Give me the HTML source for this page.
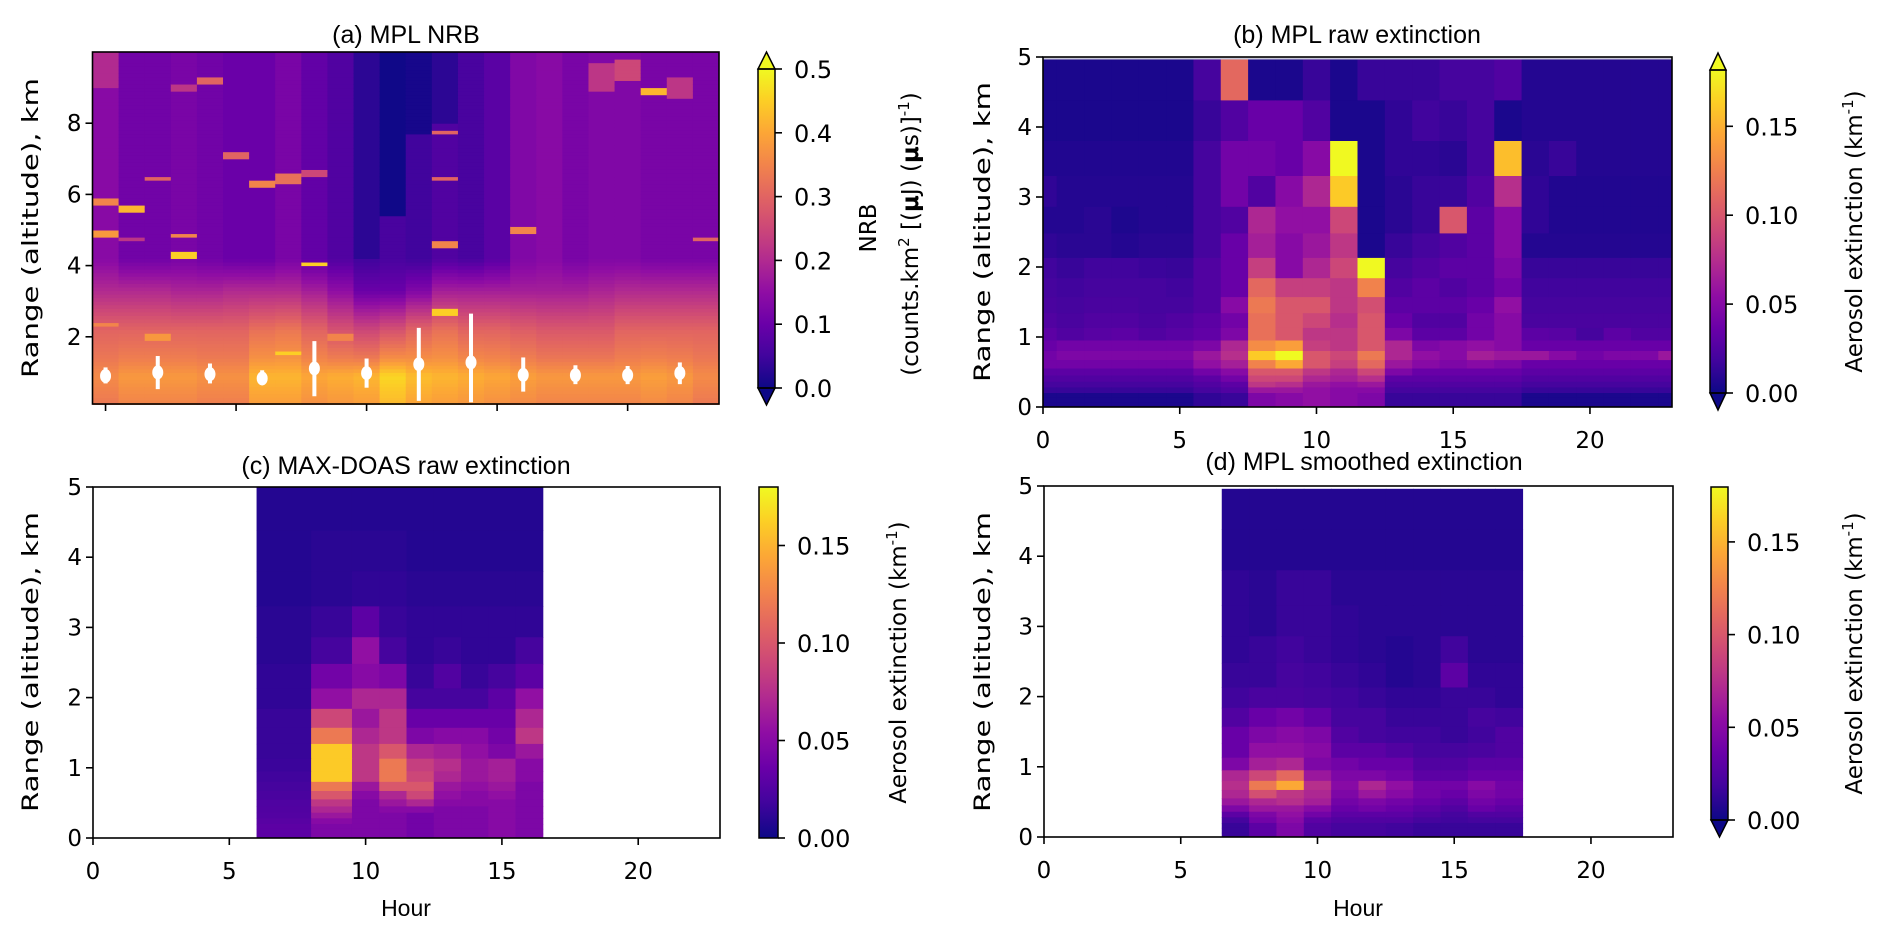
<!DOCTYPE html>
<html><head><meta charset="utf-8"><style>
html,body{margin:0;padding:0;background:#fff;}
svg text{font-family:"DejaVu Sans","Liberation Sans",sans-serif;fill:#000;}
.tt{font-family:"Liberation Sans",sans-serif;}
</style></head><body>
<svg id="fig" xmlns="http://www.w3.org/2000/svg" width="1892" height="935" viewBox="0 0 1892 935">
<defs id="defs"></defs>
</svg>
<script>
// ---------- data ----------
const hoursA = [0,1,2,3,4,5,6,7,8,9,10,11,12,13,14,15,16,17,18,19,20,21,22,23];
const upperA = [0.14,0.11,0.11,0.12,0.11,0.1,0.1,0.12,0.09,0.07,0.05,0.06,0.05,0.07,0.06,0.08,0.13,0.14,0.12,0.13,0.13,0.12,0.12,0.12];
const darkFloorA = [11,11,11,11,11,11,11,11,11,11,4.2,5.4,7.7,8.0,11,11,11,11,11,11,11,11,11,11];
const darkValA = [0,0,0,0,0,0,0,0,0,0,0.03,0.003,0.01,0.03,0,0,0,0,0,0,0,0,0,0];
const midA = [0.2,0.2,0.2,0.19,0.19,0.2,0.2,0.2,0.18,0.15,0.1,0.1,0.13,0.18,0.18,0.18,0.18,0.18,0.18,0.19,0.2,0.2,0.2,0.2];
const nearA = [0.3,0.3,0.3,0.3,0.3,0.3,0.32,0.33,0.3,0.27,0.25,0.27,0.3,0.32,0.3,0.3,0.29,0.28,0.28,0.28,0.3,0.3,0.3,0.3];
const surfA = [0.36,0.38,0.38,0.38,0.37,0.37,0.42,0.42,0.4,0.41,0.42,0.46,0.43,0.42,0.41,0.4,0.39,0.38,0.38,0.38,0.38,0.39,0.38,0.36];
const streakHour = [0,0,0,1,1,2,3,3,3,4,5,6,7,8,8,13,13,13,13,16,16,19,20,21,22,23,0,2,7,9];
const streakKm   = [5.8,4.9,9.5,5.6,4.7,6.4,4.3,4.85,9.0,9.2,7.1,6.3,6.45,4.05,6.6,7.75,6.4,4.6,2.7,5.0,8.7,9.3,9.5,8.9,9.0,4.7,2.4,2.0,1.6,2.0];
const streakThick= [0.1,0.2,1.0,0.15,0.1,0.06,0.05,0.1,0.2,0.2,0.15,0.2,0.3,0.05,0.1,0.06,0.06,0.06,0.05,0.15,0.1,0.8,0.6,0.3,0.5,0.1,0.1,0.1,0.08,0.05];
const streakVal  = [0.35,0.38,0.2,0.42,0.22,0.3,0.45,0.35,0.22,0.3,0.3,0.35,0.32,0.45,0.25,0.3,0.3,0.35,0.45,0.35,0.25,0.22,0.25,0.42,0.22,0.3,0.35,0.38,0.45,0.35];
const ebHours = [0,2,4,6,8,10,12,14,16,18,20,22];
const ebMean = [0.9,1.0,0.95,0.83,1.11,0.98,1.23,1.28,0.93,0.92,0.92,0.98];
const ebLow  = [0.69,0.53,0.69,0.65,0.33,0.57,0.20,0.16,0.46,0.67,0.67,0.67];
const ebHigh = [1.14,1.46,1.25,1.06,1.88,1.39,2.25,2.65,1.42,1.2,1.18,1.28];

const rangeEdges = [5,4.38,3.8,3.3,2.86,2.48,2.13,1.84,1.57,1.34,1.13,0.95,0.8,0.67,0.55,0.45,0.36,0.28,0.2,0.13,0.06,0];
const rangeEdgesD = [4.96,4.38,3.8,3.3,2.86,2.48,2.13,1.84,1.57,1.34,1.13,0.95,0.8,0.67,0.55,0.45,0.36,0.28,0.2,0.13,0.06,0];

const hoursB = [0,1,2,3,4,5,6,7,8,9,10,11,12,13,14,15,16,17,18,19,20,21,22,23];
const extB = [
[.005,.005,.005,.005,.005,.005,.02,.11,.005,.005,.015,.005,.015,.015,.015,.02,.02,.025,.008,.008,.008,.008,.008,.008],
[.005,.005,.005,.005,.005,.005,.015,.025,.035,.035,.025,.005,.005,.012,.018,.015,.02,.005,.008,.008,.008,.008,.008,.008],
[.007,.007,.007,.007,.007,.007,.02,.04,.04,.035,.05,.18,.005,.012,.012,.01,.02,.155,.01,.015,.008,.008,.008,.008],
[.012,.008,.008,.008,.008,.008,.02,.04,.025,.05,.07,.16,.005,.01,.015,.015,.025,.075,.012,.007,.007,.007,.007,.007],
[.008,.008,.01,.006,.008,.008,.02,.025,.07,.055,.055,.09,.005,.01,.015,.1,.03,.05,.012,.007,.007,.007,.007,.007],
[.012,.01,.01,.008,.01,.01,.02,.035,.065,.05,.06,.08,.005,.015,.02,.025,.03,.05,.008,.008,.008,.008,.008,.008],
[.018,.015,.018,.018,.016,.015,.025,.035,.085,.05,.07,.09,.18,.02,.025,.03,.03,.045,.015,.015,.015,.015,.015,.015],
[.02,.018,.02,.02,.02,.018,.025,.035,.11,.085,.085,.08,.125,.025,.03,.025,.03,.04,.018,.018,.018,.018,.018,.018],
[.022,.02,.022,.022,.02,.02,.025,.05,.12,.1,.1,.08,.095,.03,.03,.03,.035,.055,.02,.02,.02,.02,.02,.02],
[.025,.022,.025,.025,.022,.025,.03,.04,.115,.1,.09,.075,.1,.035,.025,.025,.04,.05,.022,.022,.022,.022,.022,.022],
[.03,.025,.028,.03,.025,.028,.032,.045,.115,.1,.08,.08,.1,.045,.03,.03,.04,.05,.03,.028,.02,.03,.025,.025],
[.035,.04,.04,.04,.04,.04,.045,.07,.13,.14,.085,.08,.1,.07,.045,.05,.055,.05,.035,.035,.035,.035,.035,.035],
[.04,.045,.045,.045,.045,.045,.06,.075,.16,.18,.1,.09,.12,.07,.055,.05,.065,.06,.06,.05,.04,.045,.045,.06],
[.04,.04,.04,.04,.04,.04,.055,.065,.125,.145,.1,.085,.11,.06,.05,.045,.05,.045,.035,.035,.035,.035,.035,.035],
[.03,.03,.03,.03,.03,.03,.04,.05,.1,.1,.08,.07,.09,.045,.035,.035,.035,.035,.03,.03,.03,.03,.03,.03],
[.025,.025,.025,.025,.025,.025,.03,.04,.09,.09,.07,.065,.075,.03,.03,.03,.03,.03,.025,.025,.025,.025,.025,.025],
[.02,.02,.02,.02,.02,.02,.025,.03,.08,.075,.06,.055,.06,.025,.025,.025,.025,.025,.02,.02,.02,.02,.02,.02],
[.015,.015,.015,.015,.015,.015,.02,.025,.06,.06,.055,.05,.05,.02,.02,.02,.02,.02,.015,.015,.015,.015,.015,.015],
[.005,.005,.005,.005,.005,.005,.012,.015,.045,.05,.055,.05,.045,.015,.015,.015,.015,.015,.005,.005,.005,.005,.005,.005],
[.005,.005,.005,.005,.005,.005,.012,.015,.045,.05,.055,.05,.045,.015,.015,.015,.015,.015,.005,.005,.005,.005,.005,.005],
[.005,.005,.005,.005,.005,.005,.012,.015,.045,.05,.055,.05,.045,.015,.015,.015,.015,.015,.005,.005,.005,.005,.005,.005]];

const hourEdgesC = [6,8,9.5,10.5,11.5,12.5,13.5,14.5,15.5,16.5];
const extC = [
[.008,.008,.008,.008,.008,.008,.008,.008,.008],
[.008,.01,.01,.01,.008,.008,.008,.008,.008],
[.008,.01,.012,.012,.01,.01,.01,.01,.01],
[.01,.015,.03,.015,.012,.012,.012,.012,.012],
[.01,.02,.055,.02,.012,.015,.012,.012,.02],
[.012,.04,.05,.045,.015,.025,.015,.02,.03],
[.012,.055,.07,.07,.02,.02,.02,.03,.055],
[.015,.09,.06,.08,.035,.035,.035,.035,.07],
[.015,.12,.07,.08,.045,.05,.05,.04,.08],
[.015,.16,.08,.1,.07,.065,.055,.045,.06],
[.016,.16,.08,.12,.085,.075,.06,.065,.05],
[.018,.16,.08,.12,.09,.07,.06,.065,.05],
[.02,.12,.06,.1,.1,.06,.055,.06,.045],
[.022,.1,.05,.07,.09,.055,.05,.055,.045],
[.024,.08,.045,.06,.07,.05,.05,.05,.045],
[.025,.07,.045,.05,.05,.045,.045,.05,.045],
[.026,.06,.045,.045,.04,.045,.045,.05,.045],
[.028,.05,.045,.045,.04,.045,.045,.05,.045],
[.03,.045,.045,.045,.04,.045,.045,.05,.045],
[.03,.045,.045,.045,.04,.045,.045,.05,.045],
[.03,.045,.045,.045,.04,.045,.045,.05,.045]];

const hoursD = [7,8,9,10,11,12,13,14,15,16,17];
const extD = [
[.008,.008,.008,.008,.008,.008,.008,.008,.008,.008,.008],
[.008,.008,.008,.008,.008,.008,.008,.008,.008,.008,.008],
[.012,.01,.015,.015,.01,.01,.01,.01,.01,.01,.01],
[.012,.01,.015,.015,.012,.01,.01,.01,.01,.01,.01],
[.012,.015,.018,.015,.012,.01,.008,.01,.018,.01,.01],
[.015,.015,.02,.018,.015,.012,.008,.01,.03,.012,.012],
[.018,.022,.022,.02,.018,.015,.012,.012,.015,.015,.012],
[.025,.035,.04,.032,.02,.02,.015,.015,.015,.02,.018],
[.035,.045,.05,.045,.025,.02,.018,.018,.015,.018,.025],
[.035,.055,.055,.05,.03,.03,.025,.02,.02,.022,.025],
[.045,.065,.07,.045,.04,.035,.035,.025,.025,.03,.03],
[.07,.09,.11,.06,.045,.045,.04,.03,.03,.035,.035],
[.075,.12,.145,.075,.05,.07,.055,.04,.04,.05,.04],
[.07,.095,.08,.07,.045,.06,.05,.04,.035,.045,.04],
[.06,.07,.075,.065,.04,.045,.04,.035,.03,.04,.035],
[.045,.06,.06,.05,.035,.04,.035,.03,.025,.035,.03],
[.03,.045,.055,.04,.03,.03,.03,.025,.02,.025,.025],
[.02,.04,.05,.03,.025,.025,.025,.02,.018,.02,.02],
[.015,.03,.045,.025,.02,.02,.018,.015,.015,.015,.015],
[.015,.03,.045,.025,.02,.02,.018,.015,.015,.015,.015],
[.015,.03,.045,.025,.02,.02,.018,.015,.015,.015,.015]];

const hourTicks = [0,5,10,15,20];
const kmTicksA = [2,4,6,8];
const kmTicks = [0,1,2,3,4,5];
const nrbTicks = [0.0,0.1,0.2,0.3,0.4,0.5];
const extTicks = [0.00,0.05,0.10,0.15];

// ---------- helpers ----------
const NS = 'http://www.w3.org/2000/svg';
const svg = document.getElementById('fig');
const defs = document.getElementById('defs');
const P = [[13,8,135],[65,4,157],[106,0,168],[143,13,164],[177,42,144],[204,71,120],[225,100,98],[242,132,75],[252,166,54],[252,206,37],[240,249,33]];
function cmap(t){ t=Math.max(0,Math.min(1,t)); const f=t*10; const i=Math.min(9,Math.floor(f)); const r=f-i;
  const c=[0,1,2].map(k=>Math.round(P[i][k]+(P[i+1][k]-P[i][k])*r)); return 'rgb('+c.join(',')+')'; }
function el(tag, attrs, parent){ const e=document.createElementNS(NS,tag); for(const k in attrs) e.setAttribute(k,attrs[k]); (parent||svg).appendChild(e); return e; }
function lin(d0,d1,r0,r1){ return v=>r0+(v-d0)/(d1-d0)*(r1-r0); }

function frame(g,x0,y0,x1,y1){ const r=el('rect',{x:x0,y:y0,width:x1-x0,height:y1-y0,fill:'none',stroke:'#000','stroke-width':1.6},g);
  
   }
function xTicks(g,xs,y,vals,labels){ vals.forEach(v=>{ const t=el('line',{x1:xs(v),x2:xs(v),y1:y,y2:y+7,stroke:'#000','stroke-width':1.6},g);
  
  
  if(labels){ const l=el('text',{x:xs(v),y:y+41,'text-anchor':'middle','font-size':23},g); l.textContent=String(v);
  
   } }); }
function yTicks(g,ys,x,vals){ vals.forEach(v=>{ const t=el('line',{x1:x-7,x2:x,y1:ys(v),y2:ys(v),stroke:'#000','stroke-width':1.6},g);
  
  
  const l=el('text',{x:x-11,y:ys(v)+8,'text-anchor':'end','font-size':23},g); l.textContent=String(v);
  
   }); }
function title(g,x,y,txt){ const t=el('text',{x:x,y:y,'text-anchor':'middle','font-size':25,class:'tt'},g); t.textContent=txt;
  
   }
function yLabel(g,x,y,txt){ const t=el('text',{x:0,y:0,transform:'translate('+x+','+y+') rotate(-90)','text-anchor':'middle','font-size':22,textLength:300,lengthAdjust:'spacingAndGlyphs'},g); t.textContent=txt;
  
   }
function hourLabel(g,x,y){ const t=el('text',{x:x,y:y,'text-anchor':'middle','font-size':23,class:'tt'},g); t.textContent='Hour';
  
   }
let gid=0;
function colorbar(g,x0,x1,yTop,yZero,vmaxBody,ticks,fmt,topTri,botTri,lblX,lblTxt){
  const id='cg'+(gid++);
  const lg=el('linearGradient',{id:id,x1:0,y1:1,x2:0,y2:0},defs);
  for(let i=0;i<=20;i++){ el('stop',{offset:(i/20),'stop-color':cmap(i/20)},lg); }
  const body=el('rect',{x:x0,y:yTop,width:x1-x0,height:yZero-yTop,fill:'url(#'+id+')'},g);
  
  
  const xm=(x0+x1)/2; let pts=x0+','+yTop+' '+x0+','+yZero+' ';
  if(botTri){ const tb=el('polygon',{points:x0+','+yZero+' '+x1+','+yZero+' '+xm+','+(yZero+17),fill:cmap(0),stroke:'#000','stroke-width':1.5},g);
    
     }
  if(topTri){ const tt=el('polygon',{points:x0+','+yTop+' '+x1+','+yTop+' '+xm+','+(yTop-17),fill:cmap(1),stroke:'#000','stroke-width':1.5},g);
    
     }
  const ob=el('rect',{x:x0,y:yTop,width:x1-x0,height:yZero-yTop,fill:'none',stroke:'#000','stroke-width':1.5},g);
  
  
  const cs=lin(0,vmaxBody,yZero,yTop);
  ticks.forEach(v=>{ const t=el('line',{x1:x1,x2:x1+7,y1:cs(v),y2:cs(v),stroke:'#000','stroke-width':1.6},g);
    
    
    const l=el('text',{x:x1+19,y:cs(v)+9,'font-size':24},g); l.textContent=v.toFixed(fmt);
    
     });
  if(lblTxt){ const t=el('text',{x:0,y:0,transform:'translate('+lblX+','+((yTop+yZero)/2)+') rotate(-90)','text-anchor':'middle','font-size':23},g);
    
    
    t.innerHTML='Aerosol extinction (km<tspan dy="-9" font-size="15">-1</tspan><tspan dy="9">)</tspan>'; }
}
function heat(g,xEdges,yEdges,grid,xs,ys,vmax){
  grid.forEach((row,r)=>row.forEach((v,c)=>{
    const x0=xs(xEdges[c]),x1=xs(xEdges[c+1]),y0=ys(yEdges[r]),y1=ys(yEdges[r+1]);
    const cell=el('rect',{x:x0,y:y0,width:x1-x0+0.5,height:y1-y0+0.5,fill:cmap(v/vmax)},g);
    
    
  }));
}

// ---------- panel (a) ----------
(function(){
  const g=el('g',{});  
  const xs=lin(-0.5,23.5,92.5,719), ys=lin(0,10,408,52);
  const vmax=0.5;
  function prof(c,km){
    if(km>darkFloorA[c]) return darkValA[c];
    const a=[[0.1,surfA[c]*0.92],[0.9,surfA[c]],[1.4,(surfA[c]+nearA[c])/2],[2.2,nearA[c]],[3.3,midA[c]],[4.2,upperA[c]],[10.1,upperA[c]]];
    for(let i=0;i<a.length-1;i++){ if(km<=a[i+1][0]){ const f=(km-a[i][0])/(a[i+1][0]-a[i][0]); return a[i][1]+(a[i+1][1]-a[i][1])*f; } }
    return upperA[c];
  }
  hoursA.forEach((h,c)=>{
    for(let k=0;k<99;k++){
      const k0=0.1+k*0.1, k1=Math.min(10,k0+0.1), km=(k0+k1)/2;
      let v=prof(c,km);
      streakHour.forEach((sh,i)=>{ if(sh===h && Math.abs(km-streakKm[i])<=Math.max(0.05,streakThick[i]/2)) v=Math.max(v,streakVal[i]); });
      const r=el('rect',{x:xs(h-0.5),y:ys(k1),width:xs(h+0.5)-xs(h-0.5)+0.5,height:ys(k0)-ys(k1)+0.5,fill:cmap(v/vmax)},g);
      
      
    }
  });
  ebHours.forEach((h,i)=>{
    const ln=el('line',{x1:xs(h),x2:xs(h),y1:ys(Math.max(0.1,ebLow[i])),y2:ys(ebHigh[i]),stroke:'#fff','stroke-width':4},g);
    
    
    const pt=el('ellipse',{cx:xs(h),cy:ys(ebMean[i]),rx:5.5,ry:7,fill:'#fff'},g);
    
    
  });
  frame(g,92.5,52,719,404);
  xTicks(g,xs,404,hourTicks,false);
  yTicks(g,ys,92.5,kmTicksA);
  title(g,406,43,'(a) MPL NRB');
  yLabel(g,38,228,'Range (altitude), km');
  colorbar(g,758,775,69,388,0.5,nrbTicks,1,true,true,0,null);
  const t1=el('text',{x:0,y:0,transform:'translate(876,228) rotate(-90)','text-anchor':'middle','font-size':23},g);
  t1.textContent='NRB';
  
  
  const t2=el('text',{x:0,y:0,transform:'translate(918,234) rotate(-90)','text-anchor':'middle','font-size':23},g);
  t2.innerHTML='(counts.km<tspan dy="-9" font-size="15">2</tspan><tspan dy="9"> [(</tspan><tspan font-weight="bold">μ</tspan>J) (<tspan font-weight="bold">μ</tspan>s)]<tspan dy="-9" font-size="15">-1</tspan><tspan dy="9">)</tspan>';
  
  
})();

// ---------- panel (b) ----------
(function(){
  const g=el('g',{});  
  const xs=lin(0,23,1043,1672), ys=lin(0,5,407,57);
  const edges=[0]; hoursB.forEach(h=>edges.push(Math.min(23,h+0.5)));
  heat(g,edges,rangeEdges,extB,xs,ys,0.18);
  const gl=el('line',{x1:1043,x2:1672,y1:58.5,y2:58.5,stroke:'#c8c8d8','stroke-width':2},g);
  
  
  frame(g,1043,57,1672,407);
  xTicks(g,xs,407,hourTicks,true);
  yTicks(g,ys,1043,kmTicks);
  title(g,1357,43,'(b) MPL raw extinction');
  yLabel(g,990,232,'Range (altitude), km');
  colorbar(g,1710,1726,70,393,0.05*(393-70)/88.9,extTicks,2,true,true,1862,'x');
})();

// ---------- panel (c) ----------
(function(){
  const g=el('g',{});  
  const xs=lin(0,23,93,720), ys=lin(0,5,838,487);
  heat(g,hourEdgesC,rangeEdges,extC,xs,ys,0.18);
  frame(g,93,487,720,838);
  xTicks(g,xs,838,hourTicks,true);
  yTicks(g,ys,93,kmTicks);
  title(g,406,474,'(c) MAX-DOAS raw extinction');
  yLabel(g,38,662,'Range (altitude), km');
  hourLabel(g,406,916);
  colorbar(g,759,778,487,838,0.18,extTicks,2,false,false,906,'x');
})();

// ---------- panel (d) ----------
(function(){
  const g=el('g',{});  
  const xs=lin(0,23,1044,1673), ys=lin(0,5,837,486);
  const edges=[hoursD[0]-0.5]; hoursD.forEach(h=>edges.push(h+0.5));
  heat(g,edges,rangeEdgesD,extD,xs,ys,0.18);
  frame(g,1044,486,1673,837);
  xTicks(g,xs,837,hourTicks,true);
  yTicks(g,ys,1044,kmTicks);
  title(g,1364,470,'(d) MPL smoothed extinction');
  yLabel(g,990,662,'Range (altitude), km');
  hourLabel(g,1358,916);
  colorbar(g,1711,1728,487,820,0.05*(820-487)/92.7,extTicks,2,false,true,1862,'x');
})();
</script>
</body></html>
